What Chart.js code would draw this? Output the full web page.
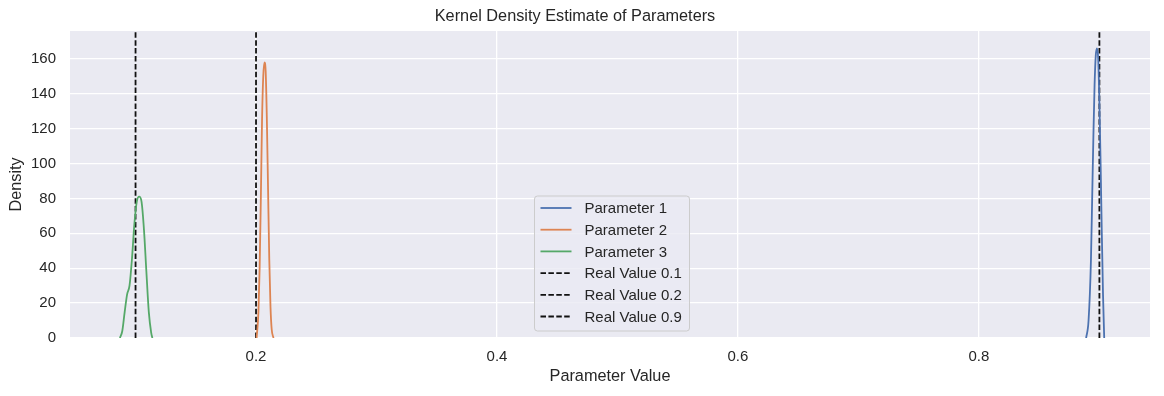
<!DOCTYPE html>
<html lang="en">
<head>
    <meta charset="UTF-8">
    <title>Kernel Density Estimate of Parameters</title>
    <script src="https://cdn.jsdelivr.net/npm/chart.js"></script>
    <style>
        body { margin: 0; background: #ffffff; }
    </style>
</head>
<body>
    <canvas id="kdeChart" width="1164" height="396"></canvas>

    <script>
        // density curves
        const param1X = [0.889, 0.891, 0.893, 0.894, 0.895, 0.896, 0.897, 0.898, 0.899, 0.900, 0.901, 0.902, 0.903, 0.904];
        const param1Y = [0, 10, 45, 80, 115, 145, 162, 166, 160, 135, 100, 60, 25, 0];

        const param2X = [0.2005, 0.202, 0.203, 0.204, 0.205, 0.206, 0.207, 0.208, 0.209, 0.210, 0.211, 0.212, 0.213, 0.2145];
        const param2Y = [0, 15, 40, 80, 125, 150, 158, 153, 125, 85, 45, 18, 5, 0];

        const param3X = [0.087, 0.089, 0.091, 0.093, 0.095, 0.097, 0.099, 0.101, 0.103, 0.105, 0.107, 0.109, 0.111, 0.113, 0.114];
        const param3Y = [0, 4, 15, 25, 30, 45, 65, 78, 81, 78, 62, 38, 15, 3, 0];

        const realValues = [0.1, 0.2, 0.9];
        const xTicks = [0.2, 0.4, 0.6, 0.8];
        const yMax = 176;

        const colors = ['#4C72B0', '#DD8452', '#55A868'];
        const fontFamily = '"Liberation Sans", Arial, sans-serif';
        const textColor = '#262626';

        function toPoints(xs, ys) {
            return xs.map((x, i) => ({ x: x, y: ys[i] }));
        }

        const curves = [
            { label: 'Parameter 1', data: toPoints(param1X, param1Y) },
            { label: 'Parameter 2', data: toPoints(param2X, param2Y) },
            { label: 'Parameter 3', data: toPoints(param3X, param3Y) }
        ];

        const datasets = curves.map((c, i) => ({
            label: c.label,
            data: c.data,
            borderColor: colors[i],
            borderWidth: 1.8,
            pointRadius: 0,
            fill: false,
            cubicInterpolationMode: 'monotone'
        }));

        realValues.forEach(v => {
            datasets.push({
                label: 'Real Value ' + v,
                data: [{ x: v, y: 0 }, { x: v, y: yMax }],
                borderColor: '#111111',
                borderWidth: 1.8,
                borderDash: [5.5, 2.4],
                pointRadius: 0,
                fill: false
            });
        });

        // grey plot background
        const plotBackground = {
            id: 'plotBackground',
            beforeDraw(chart) {
                const ctx = chart.ctx;
                const a = chart.chartArea;
                ctx.save();
                ctx.fillStyle = '#ffffff';
                ctx.fillRect(0, 0, chart.width, chart.height);
                ctx.fillStyle = '#EAEAF2';
                ctx.fillRect(a.left, a.top, a.right - a.left, a.bottom - a.top);
                ctx.restore();
            }
        };

        // matplotlib style legend, lower center inside the plot
        const innerLegend = {
            id: 'innerLegend',
            afterDatasetsDraw(chart) {
                const ctx = chart.ctx;
                const a = chart.chartArea;
                const w = 155, h = 135, rowH = 21.7;
                const x = (a.left + a.right) / 2 - w / 2 + 2;
                const y = a.bottom - 7 - h;
                ctx.save();
                ctx.beginPath();
                ctx.roundRect(x, y, w, h, 3);
                ctx.fillStyle = 'rgba(234,234,242,0.8)';
                ctx.fill();
                ctx.strokeStyle = '#cccccc';
                ctx.lineWidth = 1;
                ctx.stroke();

                ctx.font = '15px ' + fontFamily;
                ctx.textBaseline = 'middle';
                chart.data.datasets.forEach((ds, i) => {
                    const ry = y + 12 + i * rowH;
                    ctx.beginPath();
                    ctx.strokeStyle = ds.borderColor;
                    ctx.lineWidth = ds.borderWidth;
                    ctx.setLineDash(ds.borderDash || []);
                    ctx.moveTo(x + 6, ry);
                    ctx.lineTo(x + 37, ry);
                    ctx.stroke();
                    ctx.setLineDash([]);
                    ctx.fillStyle = textColor;
                    ctx.fillText(ds.label, x + 50, ry + 1);
                });
                ctx.restore();
            }
        };

        new Chart(document.getElementById('kdeChart'), {
            type: 'line',
            data: { datasets: datasets },
            plugins: [plotBackground, innerLegend],
            options: {
                responsive: false,
                animation: false,
                layout: { padding: { left: 0, right: 14, top: 0, bottom: 0 } },
                plugins: {
                    legend: { display: false },
                    tooltip: { enabled: false },
                    title: {
                        display: true,
                        text: 'Kernel Density Estimate of Parameters',
                        color: textColor,
                        font: { family: fontFamily, size: 16.3, weight: 'normal' },
                        padding: { top: 7, bottom: 4.4 }
                    }
                },
                scales: {
                    x: {
                        type: 'linear',
                        min: 0.0456,
                        max: 0.942,
                        border: { display: false },
                        grid: { color: '#ffffff', lineWidth: 1.3, drawTicks: false },
                        afterBuildTicks: scale => {
                            scale.ticks = xTicks.map(v => ({ value: v }));
                        },
                        afterFit: scale => { scale.height = 58; },
                        ticks: {
                            color: textColor,
                            padding: 10,
                            font: { family: fontFamily, size: 15 },
                            callback: v => String(v)
                        },
                        title: {
                            display: true,
                            text: 'Parameter Value',
                            color: textColor,
                            font: { family: fontFamily, size: 16.3 },
                            padding: { top: 0, bottom: 10 }
                        }
                    },
                    y: {
                        min: 0,
                        max: yMax,
                        border: { display: false },
                        grid: { color: '#ffffff', lineWidth: 1.3, drawTicks: false },
                        afterFit: scale => { scale.width = 70; },
                        ticks: {
                            stepSize: 20,
                            includeBounds: false,
                            color: textColor,
                            padding: 14,
                            font: { family: fontFamily, size: 15 }
                        },
                        title: {
                            display: true,
                            text: 'Density',
                            color: textColor,
                            font: { family: fontFamily, size: 16.3 },
                            padding: { top: 7, bottom: 0 }
                        }
                    }
                }
            }
        });
    </script>
</body>
</html>
